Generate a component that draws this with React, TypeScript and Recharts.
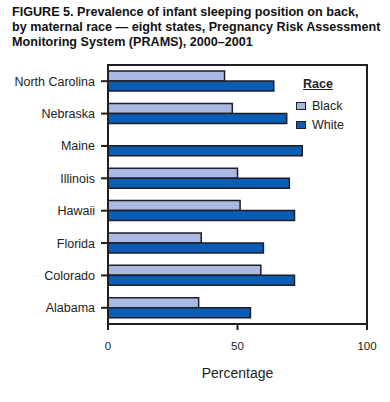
import { BarChart, Bar, XAxis, YAxis } from "recharts";

const states = [
  "North Carolina",
  "Nebraska",
  "Maine",
  "Illinois",
  "Hawaii",
  "Florida",
  "Colorado",
  "Alabama",
];
const black = [45, 48, null, 50, 51, 36, 59, 35];
const white = [64, 69, 75, 70, 72, 60, 72, 55];
const xTicks = [0, 50, 100];

const data = states.map((state, i) => ({
  state,
  Black: black[i],
  White: white[i],
}));

const FONT = "Arial, 'Liberation Sans', Helvetica, sans-serif";
const INK = "#1e1e24";
const BLACK_FILL = "#a9b9e3";
const WHITE_FILL = "#0b5cb5";

// plot box
const PLOT = { left: 108, top: 65, right: 367, bottom: 324 };

function RaceLegend() {
  const items = [
    { name: "Black", color: BLACK_FILL },
    { name: "White", color: WHITE_FILL },
  ];
  return (
    <div
      style={{
        position: "absolute",
        left: 296,
        top: 77,
        fontFamily: FONT,
        fontSize: 12.5,
        color: "#222",
      }}
    >
      <div
        style={{
          fontWeight: "bold",
          textDecoration: "underline",
          marginLeft: 7,
          marginBottom: 4,
          lineHeight: "15px",
        }}
      >
        Race
      </div>
      {items.map((it) => (
        <div
          key={it.name}
          style={{ display: "flex", alignItems: "center", height: 19 }}
        >
          <span
            style={{
              width: 8,
              height: 6,
              background: it.color,
              border: `1.5px solid ${INK}`,
              marginRight: 6,
            }}
          />
          <span>{it.name}</span>
        </div>
      ))}
    </div>
  );
}

export default function App() {
  return (
    <div
      style={{
        position: "absolute",
        left: 0,
        top: 0,
        width: 390,
        height: 402,
        background: "#fff",
      }}
    >
      <div
        style={{
          position: "absolute",
          left: 12,
          top: 5,
          fontFamily: FONT,
          fontWeight: "bold",
          fontSize: 12.6,
          lineHeight: "15px",
          color: "#111",
          whiteSpace: "nowrap",
        }}
      >
        FIGURE 5. Prevalence of infant sleeping position on back,
        <br />
        by maternal race — eight states, Pregnancy Risk Assessment
        <br />
        Monitoring System (PRAMS), 2000–2001
      </div>
      <div style={{ position: "absolute", left: 0, top: 0 }}>
        <BarChart
          width={390}
          height={402}
          data={data}
          layout="vertical"
          margin={{ top: PLOT.top, right: 390 - PLOT.right, bottom: 18, left: 0 }}
          barSize={10}
          barGap={0}
        >
          <XAxis
            type="number"
            domain={[0, 100]}
            ticks={xTicks}
            height={402 - PLOT.bottom - 18}
            tickSize={6}
            tickMargin={12}
            axisLine={{ stroke: INK, strokeWidth: 2 }}
            tickLine={{ stroke: INK, strokeWidth: 2 }}
            tick={{ fill: "#222", fontSize: 11.5, fontFamily: FONT }}
            label={{
              value: "Percentage",
              position: "insideBottom",
              offset: 6,
              style: { fill: "#222", fontSize: 14, fontFamily: FONT },
            }}
          />
          <YAxis
            type="category"
            dataKey="state"
            width={PLOT.left}
            tickSize={7}
            tickMargin={6}
            axisLine={{ stroke: INK, strokeWidth: 2 }}
            tickLine={{ stroke: INK, strokeWidth: 2 }}
            tick={{ fill: "#222", fontSize: 12.5, fontFamily: FONT }}
          />
          <Bar
            dataKey="Black"
            fill={BLACK_FILL}
            stroke={INK}
            strokeWidth={1.5}
            isAnimationActive={false}
          />
          <Bar
            dataKey="White"
            fill={WHITE_FILL}
            stroke={INK}
            strokeWidth={1.5}
            isAnimationActive={false}
          />
        </BarChart>
      </div>
      {/* top and right edges of the plot frame */}
      <div
        style={{
          position: "absolute",
          left: PLOT.left - 1,
          top: PLOT.top - 1,
          width: PLOT.right - PLOT.left,
          height: PLOT.bottom - PLOT.top,
          borderTop: `2px solid ${INK}`,
          borderRight: `2px solid ${INK}`,
          pointerEvents: "none",
        }}
      />
      <RaceLegend />
    </div>
  );
}
